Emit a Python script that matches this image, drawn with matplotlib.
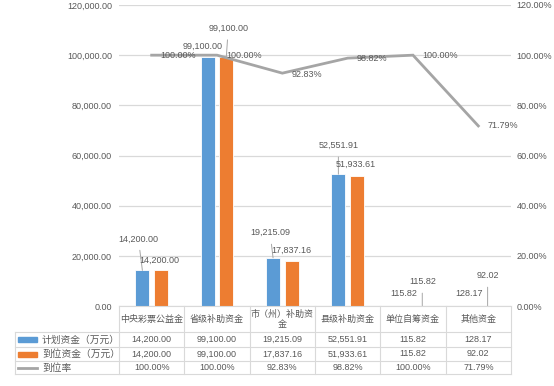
import matplotlib
matplotlib.use("Agg")
import matplotlib.pyplot as plt
from matplotlib.patches import Rectangle
from matplotlib.lines import Line2D

plt.rcParams['font.family'] = ['Liberation Sans', 'Noto Sans CJK SC', 'DejaVu Sans']

categories = ["中央彩票公益金", "省级补助资金", "市（州）补助资\n金", "县级补助资金", "单位自筹资金", "其他资金"]
planned = [14200.00, 99100.00, 19215.09, 52551.91, 115.82, 128.17]
arrived = [14200.00, 99100.00, 17837.16, 51933.61, 115.82, 92.02]
rate = [1.0000, 1.0000, 0.9283, 0.9882, 1.0000, 0.7179]
series_names = ["计划资金（万元）", "到位资金（万元）", "到位率"]
left_ticks = [0, 20000, 40000, 60000, 80000, 100000, 120000]
right_ticks = [0, 0.2, 0.4, 0.6, 0.8, 1.0, 1.2]

BLUE = "#5b9bd5"
ORANGE = "#ed7d31"
GRAY = "#a5a5a5"
TXT = "#595959"
GRID = "#d9d9d9"
FS = 6.5

W, H = 554, 386
fig = plt.figure(figsize=(W / 100, H / 100), dpi=100)

L, R, T, B = 119, 511, 5, 306
ax = fig.add_axes([L / W, 1 - B / H, (R - L) / W, (B - T) / H])
ax.set_xlim(-0.5, 5.5)
ax.set_ylim(0, 120000)
for s in ax.spines.values():
    s.set_visible(False)
ax.set_xticks([])
ax.set_yticks(left_ticks)
ax.set_yticklabels([f"{v:,.2f}" for v in left_ticks], fontsize=FS, color=TXT)
ax.tick_params(axis='y', length=0, pad=5)
ax.grid(axis='y', color=GRID, linewidth=0.9)
ax.set_axisbelow(True)

x = list(range(len(categories)))
off, bw = 0.142, 0.214
xb = [i - off for i in x]
xo = [i + off for i in x]
ax.bar(xb, planned, width=bw, color=BLUE, edgecolor='white', linewidth=0.6, zorder=2)
ax.bar(xo, arrived, width=bw, color=ORANGE, edgecolor='white', linewidth=0.6, zorder=2)

ax2 = ax.twinx()
ax2.set_ylim(0, 1.2)
for s in ax2.spines.values():
    s.set_visible(False)
ax2.set_yticks(right_ticks)
ax2.set_yticklabels([f"{v:.2%}" for v in right_ticks], fontsize=FS, color=TXT)
ax2.tick_params(axis='y', length=0, pad=4)
ax2.plot(x, rate, color=GRAY, linewidth=2.0, zorder=3, solid_joinstyle='miter')

# bar labels: (dx, dy) in pixels, leader line or not
blue_off = [(-4, 31.5, True), (-5, 11, False), (-3, 25, True), (0, 28.6, True), (0, 12, False), (0, 12, False)]
orange_off = [(-1.5, 10.5, False), (2, 29, True), (0, 11.4, False), (-1, 11, False), (0, 24, True), (0, 30, True)]
for xs, vals, offs in ((xb, planned, blue_off), (xo, arrived, orange_off)):
    for xi, v, (dx, dy, lead) in zip(xs, vals, offs):
        ax.annotate(f"{v:,.2f}", xy=(xi, v), xytext=(dx, dy), textcoords='offset pixels',
                    ha='center', va='center', fontsize=FS, color=TXT, zorder=5,
                    arrowprops=dict(arrowstyle='-', color='#a6a6a6', lw=0.7, shrinkA=3, shrinkB=0) if lead else None)

rate_dy = [0, 0, -1, 0, 0, 0]
for xi, r, dy in zip(x, rate, rate_dy):
    ax2.annotate(f"{r:.2%}", xy=(xi, r), xytext=(9, dy), textcoords='offset pixels',
                 ha='left', va='center', fontsize=FS, color=TXT, zorder=5)

# data table drawn in pixel coordinates
tb = fig.add_axes([0, 0, 1, 1])
tb.set_xlim(0, W)
tb.set_ylim(H, 0)
tb.axis('off')
tb.patch.set_alpha(0)
LC = "#d9d9d9"
colw = (R - L) / len(categories)
rows_y = [306, 332, 347, 361, 374]
leg_l = 15
# horizontal lines
tb.plot([L, R], [rows_y[0], rows_y[0]], color=LC, lw=0.8)
for yy in rows_y[1:]:
    tb.plot([leg_l, R], [yy, yy], color=LC, lw=0.8)
# vertical lines
tb.plot([leg_l, leg_l], [rows_y[1], rows_y[-1]], color=LC, lw=0.8)
for k in range(len(categories) + 1):
    xx = L + k * colw
    tb.plot([xx, xx], [rows_y[0], rows_y[-1]], color=LC, lw=0.8)

cjk = ['Noto Sans CJK SC', 'DejaVu Sans']
for k, c in enumerate(categories):
    cx = L + (k + 0.5) * colw
    tb.text(cx, (rows_y[0] + rows_y[1]) / 2 + 0.5, c, ha='center', va='center', fontsize=FS,
            color=TXT, family=cjk, linespacing=1.1)
row_vals = [[f"{v:,.2f}" for v in planned], [f"{v:,.2f}" for v in arrived], [f"{v:.2%}" for v in rate]]
for r_i, vals in enumerate(row_vals):
    cy = (rows_y[r_i + 1] + rows_y[r_i + 2]) / 2
    for k, t in enumerate(vals):
        tb.text(L + (k + 0.5) * colw, cy, t, ha='center', va='center', fontsize=FS, color=TXT)

# legend keys
for r_i, (name, col) in enumerate(zip(series_names, [BLUE, ORANGE, GRAY])):
    cy = (rows_y[r_i + 1] + rows_y[r_i + 2]) / 2
    if r_i < 2:
        tb.add_patch(Rectangle((18, cy - 2.5), 19, 5, color=col))
    else:
        tb.add_line(Line2D([18, 37], [cy, cy], color=col, lw=2))
    tb.text(42, cy, name, ha='left', va='center', fontsize=FS + 0.5, color=TXT, family=cjk)

fig.savefig("out.png", dpi=100)
